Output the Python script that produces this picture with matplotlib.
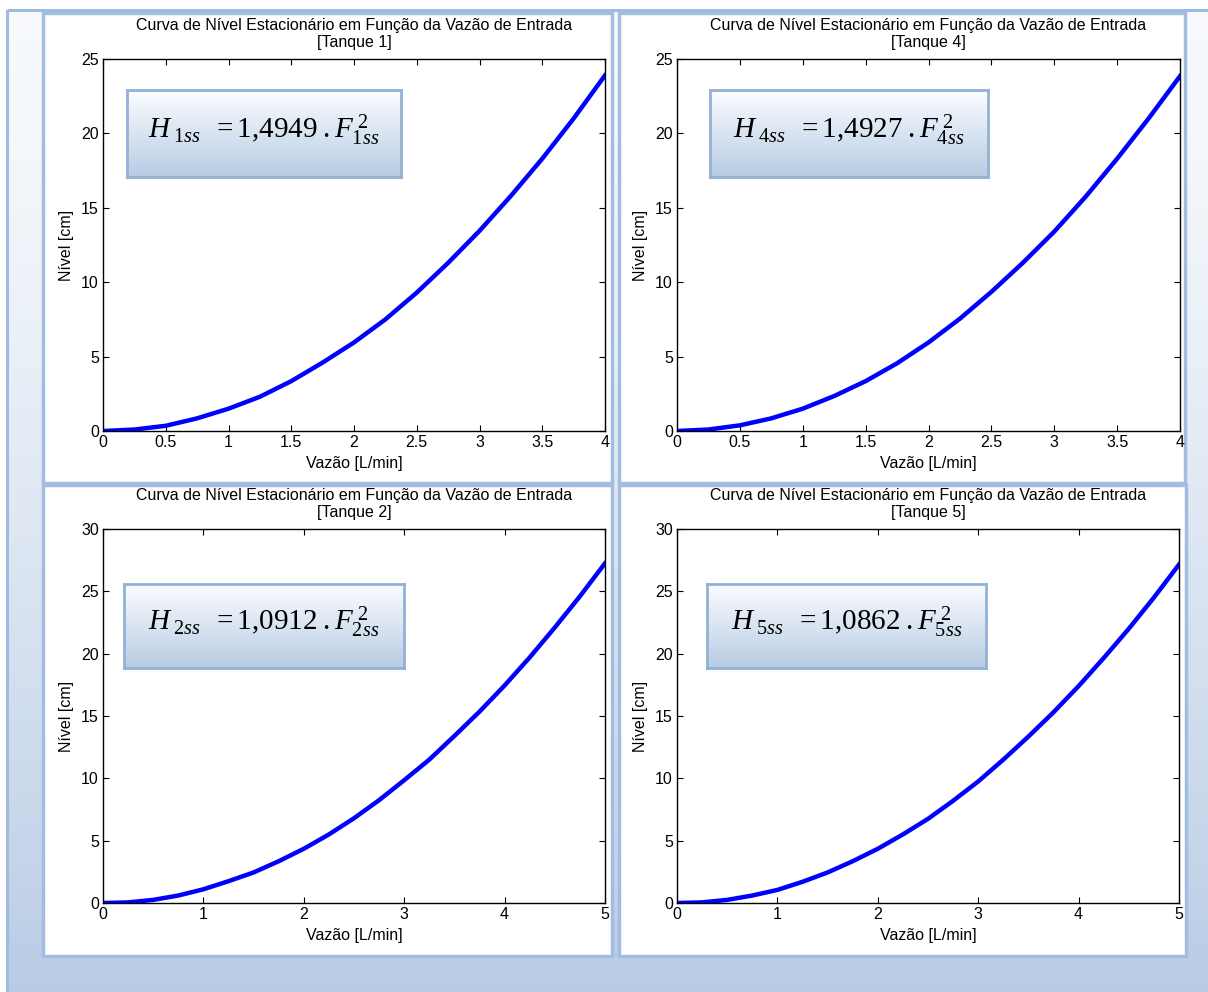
import numpy as np
import matplotlib
matplotlib.use("Agg")
import matplotlib.pyplot as plt
from matplotlib.patches import Rectangle
from matplotlib.ticker import FuncFormatter

plt.rcParams["font.family"] = ["Liberation Sans", "DejaVu Sans"]
plt.rcParams["mathtext.fontset"] = "custom"
plt.rcParams["mathtext.rm"] = "Liberation Serif"
plt.rcParams["mathtext.it"] = "Liberation Serif:italic"

# =====================
# DATA
# =====================
vazao_4 = [0, 0.25, 0.5, 0.75, 1, 1.25, 1.5, 1.75, 2, 2.25, 2.5, 2.75, 3, 3.25, 3.5, 3.75, 4]
nivel_t1 = [0.0, 0.1, 0.35, 0.85, 1.5, 2.3, 3.35, 4.6, 5.95, 7.5, 9.3, 11.3, 13.45, 15.8, 18.3, 21.0, 23.9]
nivel_t4 = [0.0, 0.1, 0.38, 0.85, 1.5, 2.35, 3.35, 4.55, 5.95, 7.55, 9.35, 11.3, 13.4, 15.75, 18.3, 21.0, 23.85]

vazao_5 = [0, 0.25, 0.5, 0.75, 1, 1.25, 1.5, 1.75, 2, 2.25, 2.5, 2.75, 3, 3.25, 3.5, 3.75, 4, 4.25, 4.5, 4.75, 5]
nivel_t2 = [0.0, 0.05, 0.25, 0.6, 1.1, 1.75, 2.45, 3.35, 4.35, 5.5, 6.8, 8.25, 9.85, 11.5, 13.4, 15.35, 17.45, 19.7, 22.1, 24.6, 27.25]
nivel_t5 = [0.0, 0.05, 0.25, 0.6, 1.05, 1.7, 2.45, 3.35, 4.35, 5.5, 6.75, 8.2, 9.75, 11.5, 13.35, 15.3, 17.4, 19.65, 22.0, 24.5, 27.15]

tanques = ["1", "4", "2", "5"]
coefs = ["1{,}4949", "1{,}4927", "1{,}0912", "1{,}0862"]

W, H = 1208, 992
fig = plt.figure(figsize=(W / 100, H / 100), dpi=100)

# =====================
# BACKGROUND (pixel coords)
# =====================
bg = fig.add_axes([0, 0, 1, 1])
bg.set_xlim(0, W)
bg.set_ylim(H, 0)
bg.axis("off")
grad = np.linspace(0, 1, 256)[:, None] ** 1.4
c_top = np.array([0.97, 0.98, 0.99])
c_bot = np.array([0.725, 0.80, 0.898])
img = c_top + grad[..., None] * (c_bot - c_top)
bg.imshow(img, extent=[7, W + 5, H + 5, 10], aspect="auto", zorder=0)
bg.add_patch(Rectangle((7, 10), W, H, fill=False, ec="#9fbbdf", lw=2.2, zorder=1))

border = "#a3bde0"
panels = [(43, 13, 612, 483), (619, 13, 1185, 483), (43, 485, 612, 956), (619, 485, 1186, 956)]
for x0, y0, x1, y1 in panels:
    bg.add_patch(Rectangle((x0, y0), x1 - x0, y1 - y0, fc="white", ec=border, lw=2.5, zorder=2))


def px_rect(x0, y0, x1, y1):
    return [x0 / W, (H - y1) / H, (x1 - x0) / W, (y1 - y0) / H]


axes_px = [(103, 59, 605, 431), (677, 59, 1180, 431), (103, 529, 605, 903), (677, 529, 1179, 903)]
boxes_px = [(127, 90, 401, 177), (710, 90, 988, 177), (124, 584, 404, 668), (707, 584, 986, 668)]
series = [(vazao_4, nivel_t1, 25, 5, 0.5), (vazao_4, nivel_t4, 25, 5, 0.5),
          (vazao_5, nivel_t2, 30, 5, 1), (vazao_5, nivel_t5, 30, 5, 1)]

fmt = FuncFormatter(lambda v, p: "{:g}".format(v))
fs = 11.5

for i, (x, y, ymax, ystep, xstep) in enumerate(series):
    ax = fig.add_axes(px_rect(*axes_px[i]))
    ax.plot(x, y, color="#0000ff", lw=3.2)
    ax.set_xlim(0, x[-1])
    ax.set_ylim(0, ymax)
    ax.set_xticks(np.arange(0, x[-1] + 1e-9, xstep))
    ax.set_yticks(np.arange(0, ymax + 1e-9, ystep))
    ax.xaxis.set_major_formatter(fmt)
    ax.yaxis.set_major_formatter(fmt)
    ax.tick_params(direction="in", top=True, right=True, length=4.5, width=0.8,
                   labelsize=fs, pad=3)
    for s in ax.spines.values():
        s.set_linewidth(1.0)
    ax.set_title("Curva de Nível Estacionário em Função da Vazão de Entrada\n[Tanque %s]" % tanques[i],
                 fontsize=fs, pad=9, linespacing=1.1)
    ax.set_xlabel("Vazão [L/min]", fontsize=fs, labelpad=4)
    ax.set_ylabel("Nível [cm]", fontsize=fs, labelpad=5)

    # equation box
    bx = fig.add_axes(px_rect(*boxes_px[i]))
    bgrad = np.linspace(0, 1, 128)[:, None]
    b_top = np.array([0.985, 0.99, 1.0])
    b_bot = np.array([0.72, 0.80, 0.895])
    bx.imshow(b_top + bgrad[..., None] * (b_bot - b_top), extent=[0, 1, 0, 1],
              aspect="auto", origin="upper")
    bx.set_xticks([])
    bx.set_yticks([])
    for s in bx.spines.values():
        s.set_edgecolor("#93b1d7")
        s.set_linewidth(2)
    t = tanques[i]
    eq = r"$H_{\;%sss}\;\;=%s\;.F_{%sss}^{\;2}$" % (t, coefs[i], t)
    bx.text(0.5, 0.54, eq, transform=bx.transAxes, ha="center", va="center", fontsize=21)

fig.savefig("out.png", dpi=100)
